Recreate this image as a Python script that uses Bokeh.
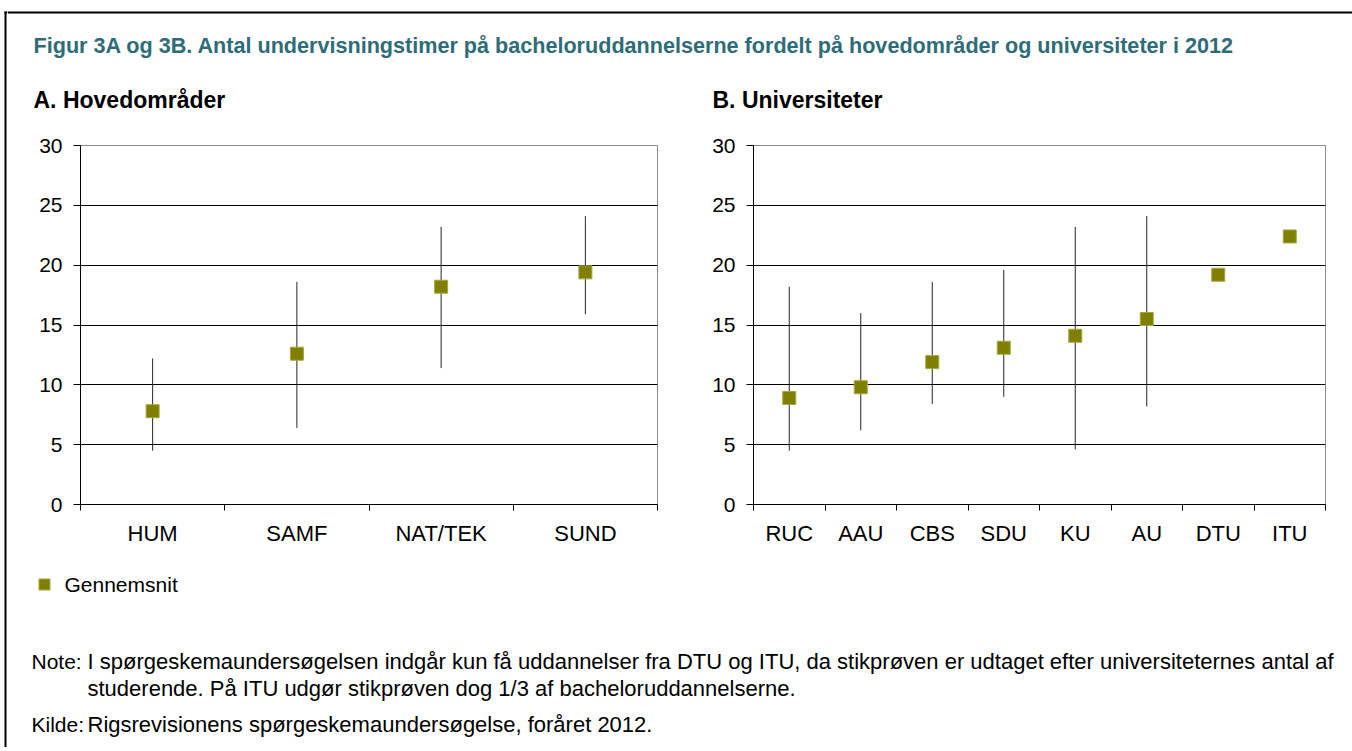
from bokeh.plotting import figure
from bokeh.models import Range1d, FixedTicker, Label, ColumnDataSource
from bokeh.layouts import column, row
from bokeh.embed import file_html
from bokeh.resources import INLINE

# ---------------- data ----------------
title_text = ("Figur 3A og 3B. Antal undervisningstimer på bacheloruddannelserne "
              "fordelt på hovedområder og universiteter i 2012")
subtitle_a = "A. Hovedområder"
subtitle_b = "B. Universiteter"

areas = ["HUM", "SAMF", "NAT/TEK", "SUND"]
areas_mean = [7.8, 12.6, 18.2, 19.4]
areas_low = [4.5, 6.4, 11.4, 15.9]
areas_high = [12.2, 18.6, 23.2, 24.1]

unis = ["RUC", "AAU", "CBS", "SDU", "KU", "AU", "DTU", "ITU"]
unis_mean = [8.9, 9.8, 11.9, 13.1, 14.1, 15.5, 19.2, 22.4]
unis_low = [4.5, 6.2, 8.4, 9.0, 4.6, 8.2, None, None]
unis_high = [18.2, 16.0, 18.6, 19.6, 23.2, 24.1, None, None]

y_ticks = [0, 5, 10, 15, 20, 25, 30]
legend_label = "Gennemsnit"
note_head = "Note:"
note_lines = ["I spørgeskemaundersøgelsen indgår kun få uddannelser fra DTU og ITU, "
              "da stikprøven er udtaget efter universiteternes antal af",
              "studerende. På ITU udgør stikprøven dog 1/3 af bacheloruddannelserne."]
source_head = "Kilde:"
source_line = "Rigsrevisionens spørgeskemaundersøgelse, foråret 2012."

# ---------------- style ----------------
FONT = "Liberation Sans"
TEAL = "#2E6C78"
OLIVE = "#808000"
OLIVE_EDGE = "#A6A640"
TOTAL_W, TOTAL_H = 1352, 747
STRIP_W = 7
MAIN_W = TOTAL_W - STRIP_W
HEAD_H, CHART_H = 128, 420
FOOT_H = TOTAL_H - HEAD_H - CHART_H


def canvas(w, h):
    p = figure(width=w, height=h, x_range=Range1d(0, w), y_range=Range1d(h, 0),
               output_backend="svg", toolbar_location=None,
               x_axis_type=None, y_axis_type=None, min_border=0)
    p.grid.visible = False
    p.outline_line_color = None
    p.background_fill_color = "white"
    p.border_fill_color = "white"
    return p


def txt(p, x, y, text, size, bold=False, color="black"):
    p.add_layout(Label(x=x, y=y, text=text, text_font=FONT, text_font_size=size,
                       text_font_style="bold" if bold else "normal",
                       text_color=color, text_baseline="middle", text_align="left"))


def chart(cats, mean, low, high, width, height, mbl, mbr, mbt, mbb):
    n = len(cats)
    xs = list(range(n))
    p = figure(width=width, height=height, x_range=Range1d(-0.5, n - 0.5),
               y_range=Range1d(0, 30), output_backend="svg", toolbar_location=None,
               min_border_left=mbl, min_border_right=mbr,
               min_border_top=mbt, min_border_bottom=mbb)
    p.background_fill_color = "white"
    p.border_fill_color = "white"
    p.outline_line_color = "#8C8C8C"
    p.outline_line_width = 1
    p.xgrid.visible = False
    p.ygrid.ticker = FixedTicker(ticks=y_ticks[1:-1])
    p.ygrid.grid_line_color = "#000000"
    p.ygrid.grid_line_width = 1

    ya = p.yaxis[0]
    ya.ticker = FixedTicker(ticks=y_ticks)
    ya.axis_line_color = "black"
    ya.major_tick_line_color = "black"
    ya.major_tick_in = 0
    ya.major_tick_out = 7
    ya.minor_tick_line_color = None
    ya.major_label_standoff = 11
    ya.major_label_text_font = FONT
    ya.major_label_text_font_size = "21px"
    ya.major_label_text_color = "black"

    xa = p.xaxis[0]
    xa.ticker = FixedTicker(ticks=xs, minor_ticks=[i - 0.5 for i in range(n + 1)])
    xa.major_label_overrides = {i: c for i, c in zip(xs, cats)}
    xa.axis_line_color = "black"
    xa.major_tick_line_color = None
    xa.major_tick_in = 0
    xa.major_tick_out = 0
    xa.minor_tick_line_color = "black"
    xa.minor_tick_in = 0
    xa.minor_tick_out = 6
    xa.major_label_standoff = 10
    xa.major_label_text_font = FONT
    xa.major_label_text_font_size = "22px"
    xa.major_label_text_color = "black"

    sx = [x for x, l in zip(xs, low) if l is not None]
    sl = [l for l in low if l is not None]
    sh = [h for h in high if h is not None]
    p.segment(x0=sx, y0=sl, x1=sx, y1=sh, line_color="#262626", line_width=1)
    src = ColumnDataSource(dict(x=xs, y=mean, cat=cats))
    p.scatter(x="x", y="y", source=src, marker="square", size=13,
              fill_color=OLIVE, line_color=OLIVE_EDGE, line_width=1)
    return p


# ---------------- frame border (left strip + top line) ----------------
strip = canvas(STRIP_W, TOTAL_H)
strip.segment(x0=[5], y0=[11], x1=[5], y1=[TOTAL_H], line_color="black", line_width=2)
strip.segment(x0=[4], y0=[12], x1=[STRIP_W], y1=[12], line_color="black", line_width=2)

# ---------------- header ----------------
header = canvas(MAIN_W, HEAD_H)
header.segment(x0=[0], y0=[12], x1=[MAIN_W], y1=[12], line_color="black", line_width=2)
txt(header, 26, 45, title_text, "21.6px", bold=True, color=TEAL)
txt(header, 26, 99, subtitle_a, "23px", bold=True)
txt(header, 705, 99, subtitle_b, "23px", bold=True)

# ---------------- charts ----------------
W_A = 698
fig_a = chart(areas, areas_mean, areas_low, areas_high, W_A, CHART_H, 73, 48, 17, 41)
fig_b = chart(unis, unis_mean, unis_low, unis_high, MAIN_W - W_A, CHART_H, 48, 27, 17, 41)

# ---------------- footer: legend, note, source ----------------
footer = canvas(MAIN_W, FOOT_H)
footer.scatter(x=[37], y=[36], marker="square", size=11,
               fill_color=OLIVE, line_color=OLIVE_EDGE)
txt(footer, 57, 36, legend_label, "21px")
txt(footer, 24, 113, note_head, "21px")
txt(footer, 80, 113, note_lines[0], "22px")
txt(footer, 80, 140, note_lines[1], "22px")
txt(footer, 24, 176, source_head, "21px")
txt(footer, 80, 176, source_line, "22px")

layout = row(strip, column(header, row(fig_a, fig_b), footer))

open("out.html", "w").write(file_html(layout, INLINE))
